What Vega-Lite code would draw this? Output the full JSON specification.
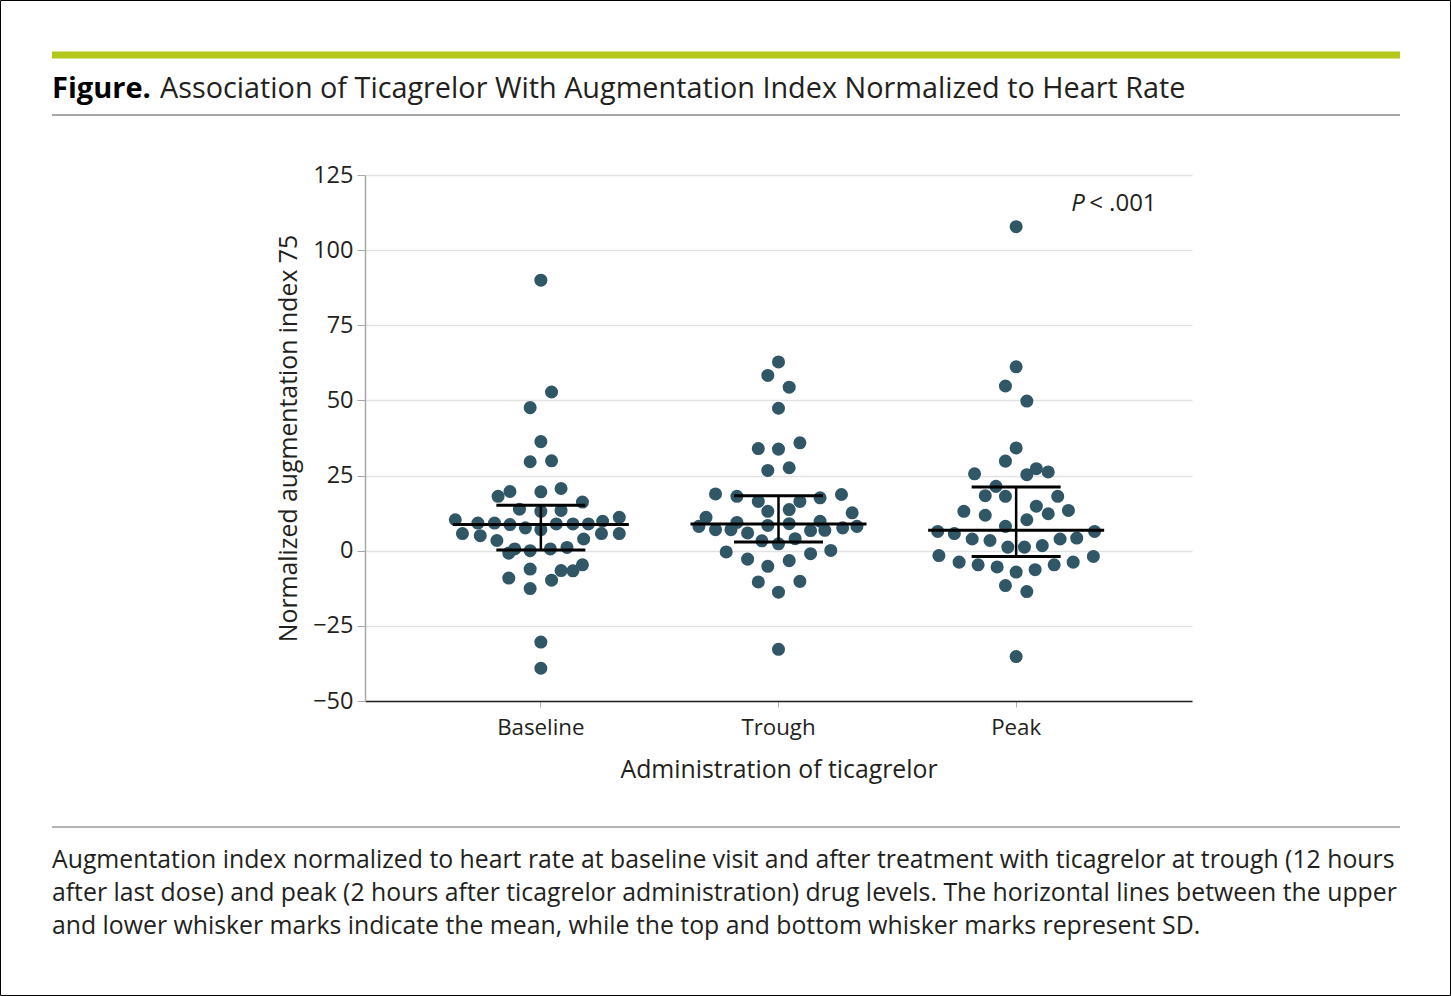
{
  "$schema": "https://vega.github.io/schema/vega-lite/v6.json",
  "width": 827,
  "height": 526,
  "autosize": {"type": "none"},
  "padding": {"left": 365, "top": 175, "right": 259, "bottom": 295},
  "background": "white",
  "config": {
    "font": "Open Sans",
    "view": {"stroke": null},
    "axis": {"labelColor": "#231f20", "titleColor": "#231f20", "titleFontWeight": "normal"}
  },
  "datasets": {
    "aix": [
      {"g": "Baseline", "v": 90, "o": 0}, {"g": "Baseline", "v": 52.8, "o": 0.09}, {"g": "Baseline", "v": 47.6, "o": -0.09},
      {"g": "Baseline", "v": 36.3, "o": 0}, {"g": "Baseline", "v": 29.6, "o": -0.09}, {"g": "Baseline", "v": 29.9, "o": 0.09},
      {"g": "Baseline", "v": 18.1, "o": -0.36}, {"g": "Baseline", "v": 19.7, "o": -0.26}, {"g": "Baseline", "v": 19.6, "o": 0},
      {"g": "Baseline", "v": 20.7, "o": 0.17}, {"g": "Baseline", "v": 16.2, "o": 0.35}, {"g": "Baseline", "v": 13.8, "o": -0.18},
      {"g": "Baseline", "v": 13.1, "o": 0}, {"g": "Baseline", "v": 13.4, "o": 0.17}, {"g": "Baseline", "v": 10.3, "o": -0.72},
      {"g": "Baseline", "v": 9.2, "o": -0.53}, {"g": "Baseline", "v": 9.2, "o": -0.39}, {"g": "Baseline", "v": 8.7, "o": -0.26},
      {"g": "Baseline", "v": 7.6, "o": -0.13}, {"g": "Baseline", "v": 7.0, "o": 0}, {"g": "Baseline", "v": 8.9, "o": 0.13},
      {"g": "Baseline", "v": 8.9, "o": 0.27}, {"g": "Baseline", "v": 8.9, "o": 0.40}, {"g": "Baseline", "v": 9.8, "o": 0.52},
      {"g": "Baseline", "v": 11.1, "o": 0.66}, {"g": "Baseline", "v": 5.7, "o": -0.66}, {"g": "Baseline", "v": 5.0, "o": -0.51},
      {"g": "Baseline", "v": 3.4, "o": -0.37}, {"g": "Baseline", "v": 5.7, "o": 0.51}, {"g": "Baseline", "v": 5.7, "o": 0.66},
      {"g": "Baseline", "v": 3.9, "o": 0.36}, {"g": "Baseline", "v": -0.8, "o": -0.27}, {"g": "Baseline", "v": 0.6, "o": -0.22},
      {"g": "Baseline", "v": 0.0, "o": -0.09}, {"g": "Baseline", "v": 0.6, "o": 0.08}, {"g": "Baseline", "v": 1.1, "o": 0.22},
      {"g": "Baseline", "v": -6.1, "o": -0.09}, {"g": "Baseline", "v": -9.1, "o": -0.27}, {"g": "Baseline", "v": -12.6, "o": -0.09},
      {"g": "Baseline", "v": -9.8, "o": 0.09}, {"g": "Baseline", "v": -6.6, "o": 0.17}, {"g": "Baseline", "v": -6.7, "o": 0.27},
      {"g": "Baseline", "v": -4.7, "o": 0.35}, {"g": "Baseline", "v": -30.4, "o": 0}, {"g": "Baseline", "v": -39.1, "o": 0},

      {"g": "Trough", "v": 62.8, "o": 0}, {"g": "Trough", "v": 58.3, "o": -0.09}, {"g": "Trough", "v": 54.4, "o": 0.09},
      {"g": "Trough", "v": 47.4, "o": 0}, {"g": "Trough", "v": 34.0, "o": -0.17}, {"g": "Trough", "v": 33.8, "o": 0},
      {"g": "Trough", "v": 35.9, "o": 0.18}, {"g": "Trough", "v": 26.7, "o": -0.09}, {"g": "Trough", "v": 27.6, "o": 0.09},
      {"g": "Trough", "v": 18.9, "o": -0.53}, {"g": "Trough", "v": 18.1, "o": -0.35}, {"g": "Trough", "v": 16.4, "o": -0.17},
      {"g": "Trough", "v": 16.4, "o": 0.18}, {"g": "Trough", "v": 17.6, "o": 0.35}, {"g": "Trough", "v": 18.7, "o": 0.53},
      {"g": "Trough", "v": 13.1, "o": -0.09}, {"g": "Trough", "v": 13.7, "o": 0.09}, {"g": "Trough", "v": 12.6, "o": 0.62},
      {"g": "Trough", "v": 11.1, "o": -0.61}, {"g": "Trough", "v": 8.1, "o": -0.67}, {"g": "Trough", "v": 7.0, "o": -0.53},
      {"g": "Trough", "v": 7.0, "o": -0.40}, {"g": "Trough", "v": 9.4, "o": -0.35}, {"g": "Trough", "v": 5.9, "o": -0.26},
      {"g": "Trough", "v": 8.4, "o": -0.09}, {"g": "Trough", "v": 9.0, "o": 0.09}, {"g": "Trough", "v": 6.7, "o": 0.27},
      {"g": "Trough", "v": 9.8, "o": 0.35}, {"g": "Trough", "v": 6.8, "o": 0.39}, {"g": "Trough", "v": 7.6, "o": 0.54},
      {"g": "Trough", "v": 8.1, "o": 0.66}, {"g": "Trough", "v": 3.3, "o": -0.14}, {"g": "Trough", "v": 2.3, "o": 0},
      {"g": "Trough", "v": 4.0, "o": 0.14}, {"g": "Trough", "v": -0.4, "o": -0.44}, {"g": "Trough", "v": -2.8, "o": -0.26},
      {"g": "Trough", "v": -5.2, "o": -0.09}, {"g": "Trough", "v": -3.3, "o": 0.09}, {"g": "Trough", "v": -1.0, "o": 0.27},
      {"g": "Trough", "v": 0.1, "o": 0.44}, {"g": "Trough", "v": -10.4, "o": -0.17}, {"g": "Trough", "v": -10.2, "o": 0.18},
      {"g": "Trough", "v": -13.8, "o": 0}, {"g": "Trough", "v": -32.8, "o": 0},

      {"g": "Peak", "v": 107.8, "o": 0}, {"g": "Peak", "v": 61.2, "o": 0}, {"g": "Peak", "v": 54.8, "o": -0.09},
      {"g": "Peak", "v": 49.8, "o": 0.09}, {"g": "Peak", "v": 34.2, "o": 0}, {"g": "Peak", "v": 29.8, "o": -0.09},
      {"g": "Peak", "v": 25.6, "o": -0.35}, {"g": "Peak", "v": 25.3, "o": 0.09}, {"g": "Peak", "v": 27.3, "o": 0.17},
      {"g": "Peak", "v": 26.2, "o": 0.27}, {"g": "Peak", "v": 21.4, "o": -0.17}, {"g": "Peak", "v": 18.3, "o": -0.26},
      {"g": "Peak", "v": 18.1, "o": -0.09}, {"g": "Peak", "v": 18.1, "o": 0.35}, {"g": "Peak", "v": 13.1, "o": -0.44},
      {"g": "Peak", "v": 11.8, "o": -0.26}, {"g": "Peak", "v": 14.8, "o": 0.17}, {"g": "Peak", "v": 12.3, "o": 0.27},
      {"g": "Peak", "v": 13.4, "o": 0.44}, {"g": "Peak", "v": 10.3, "o": 0.09}, {"g": "Peak", "v": 8.1, "o": -0.09},
      {"g": "Peak", "v": 6.4, "o": -0.66}, {"g": "Peak", "v": 5.7, "o": -0.52}, {"g": "Peak", "v": 3.9, "o": -0.37},
      {"g": "Peak", "v": 3.4, "o": -0.22}, {"g": "Peak", "v": 1.2, "o": -0.07}, {"g": "Peak", "v": 1.2, "o": 0.07},
      {"g": "Peak", "v": 1.7, "o": 0.22}, {"g": "Peak", "v": 3.9, "o": 0.37}, {"g": "Peak", "v": 4.2, "o": 0.51},
      {"g": "Peak", "v": 6.4, "o": 0.66}, {"g": "Peak", "v": -1.6, "o": -0.65}, {"g": "Peak", "v": -3.8, "o": -0.48},
      {"g": "Peak", "v": -4.7, "o": -0.32}, {"g": "Peak", "v": -5.4, "o": -0.16}, {"g": "Peak", "v": -7.1, "o": 0},
      {"g": "Peak", "v": -6.3, "o": 0.16}, {"g": "Peak", "v": -4.7, "o": 0.32}, {"g": "Peak", "v": -3.8, "o": 0.48},
      {"g": "Peak", "v": -1.9, "o": 0.65}, {"g": "Peak", "v": -11.6, "o": -0.09}, {"g": "Peak", "v": -13.6, "o": 0.09},
      {"g": "Peak", "v": -35.2, "o": 0}
    ],
    "summary": [
      {"g": "Baseline", "mean": 8.7, "lo": 0.2, "hi": 15.1},
      {"g": "Trough", "mean": 8.9, "lo": 2.9, "hi": 18.3},
      {"g": "Peak", "mean": 6.8, "lo": -1.9, "hi": 21.2}
    ]
  },
  "layer": [
    {
      "data": {"values": [{}]},
      "mark": {"type": "rect", "fill": null, "stroke": "#000000", "strokeWidth": 1, "clip": false},
      "encoding": {"x": {"value": -364.5}, "x2": {"value": 1085.5}, "y": {"value": -174.5}, "y2": {"value": 820.5}}
    },
    {
      "data": {"values": [{}]},
      "mark": {"type": "rule", "stroke": "#b3c81a", "strokeWidth": 7, "clip": false},
      "encoding": {"x": {"value": -313}, "x2": {"value": 1035}, "y": {"value": -120}}
    },
    {
      "data": {"values": [{}]},
      "mark": {"type": "rule", "stroke": "#a6a6a6", "strokeWidth": 2, "clip": false},
      "encoding": {"x": {"value": -313}, "x2": {"value": 1035}, "y": {"value": -60}}
    },
    {
      "data": {"values": [{}]},
      "mark": {"type": "rule", "stroke": "#9a9a9a", "strokeWidth": 1.5, "clip": false},
      "encoding": {"x": {"value": -313}, "x2": {"value": 1035}, "y": {"value": 652}}
    },
    {
      "data": {"values": [{}]},
      "mark": {"type": "text", "text": "Figure.", "font": "Open Sans", "fontWeight": "bold", "fontSize": 29, "align": "left", "baseline": "alphabetic", "color": "#000000", "clip": false},
      "encoding": {"x": {"value": -313}, "y": {"value": -77}}
    },
    {
      "data": {"values": [{}]},
      "mark": {"type": "text", "text": "Association of Ticagrelor With Augmentation Index Normalized to Heart Rate", "font": "Open Sans", "fontSize": 28.8, "align": "left", "baseline": "alphabetic", "color": "#231f20", "clip": false},
      "encoding": {"x": {"value": -205}, "y": {"value": -77}}
    },
    {
      "data": {"values": [{}]},
      "mark": {
        "type": "text",
        "text": [
          "Augmentation index normalized to heart rate at baseline visit and after treatment with ticagrelor at trough (12 hours",
          "after last dose) and peak (2 hours after ticagrelor administration) drug levels. The horizontal lines between the upper",
          "and lower whisker marks indicate the mean, while the top and bottom whisker marks represent SD."
        ],
        "font": "Open Sans", "fontSize": 24.8, "lineHeight": 33, "align": "left", "baseline": "alphabetic", "color": "#231f20", "clip": false
      },
      "encoding": {"x": {"value": -313}, "y": {"value": 693}}
    },
    {
      "data": {"name": "aix"},
      "mark": {"type": "circle", "size": 170, "opacity": 1, "color": "#315767"},
      "encoding": {
        "x": {
          "field": "g", "type": "nominal",
          "scale": {"domain": ["Baseline", "Trough", "Peak"], "paddingInner": 0, "paddingOuter": 0.24},
          "title": "Administration of ticagrelor",
          "axis": {
            "labelAngle": 0, "labelFontSize": 22.3, "labelPadding": 9,
            "domainColor": "#231f20", "domainWidth": 1.5,
            "tickColor": "#b0b0b0", "tickSize": 6,
            "titleFontSize": 24.8, "titlePadding": 19, "grid": false
          }
        },
        "xOffset": {"field": "o", "type": "quantitative", "scale": {"domain": [-1, 1]}},
        "y": {
          "field": "v", "type": "quantitative",
          "scale": {"domain": [-50, 125], "nice": false, "zero": false},
          "title": "Normalized augmentation index 75",
          "axis": {
            "values": [-50, -25, 0, 25, 50, 75, 100, 125],
            "grid": true, "gridColor": "#e2e2e2", "gridWidth": 1.5,
            "domainColor": "#a8a8a8", "domainWidth": 1.5,
            "tickColor": "#a8a8a8", "tickSize": 8,
            "labelFontSize": 23.5, "labelPadding": 4,
            "titleFontSize": 24.8, "titlePadding": 11
          }
        }
      }
    },
    {
      "data": {"name": "summary"},
      "mark": {"type": "rule", "color": "#000000", "strokeWidth": 2.5},
      "encoding": {
        "x": {"field": "g", "type": "nominal", "scale": {"domain": ["Baseline", "Trough", "Peak"], "paddingInner": 0, "paddingOuter": 0.24}},
        "y": {"field": "lo", "type": "quantitative"},
        "y2": {"field": "hi"}
      }
    },
    {
      "data": {"name": "summary"},
      "mark": {"type": "tick", "color": "#000000", "size": 89, "thickness": 3, "opacity": 1},
      "encoding": {
        "x": {"field": "g", "type": "nominal", "scale": {"domain": ["Baseline", "Trough", "Peak"], "paddingInner": 0, "paddingOuter": 0.24}},
        "y": {"field": "hi", "type": "quantitative"}
      }
    },
    {
      "data": {"name": "summary"},
      "mark": {"type": "tick", "color": "#000000", "size": 89, "thickness": 3, "opacity": 1},
      "encoding": {
        "x": {"field": "g", "type": "nominal", "scale": {"domain": ["Baseline", "Trough", "Peak"], "paddingInner": 0, "paddingOuter": 0.24}},
        "y": {"field": "lo", "type": "quantitative"}
      }
    },
    {
      "data": {"name": "summary"},
      "mark": {"type": "tick", "color": "#000000", "size": 176, "thickness": 3, "opacity": 1},
      "encoding": {
        "x": {"field": "g", "type": "nominal", "scale": {"domain": ["Baseline", "Trough", "Peak"], "paddingInner": 0, "paddingOuter": 0.24}},
        "y": {"field": "mean", "type": "quantitative"}
      }
    },
    {
      "data": {"values": [{}]},
      "mark": {"type": "text", "text": "P", "fontStyle": "italic", "fontSize": 24, "align": "left", "baseline": "middle", "dx": 55, "color": "#231f20"},
      "encoding": {"x": {"datum": "Peak", "type": "nominal"}, "y": {"datum": 115.3, "type": "quantitative"}}
    },
    {
      "data": {"values": [{}]},
      "mark": {"type": "text", "text": "< .001", "fontSize": 24, "align": "left", "baseline": "middle", "dx": 73, "color": "#231f20"},
      "encoding": {"x": {"datum": "Peak", "type": "nominal"}, "y": {"datum": 115.3, "type": "quantitative"}}
    }
  ]
}
